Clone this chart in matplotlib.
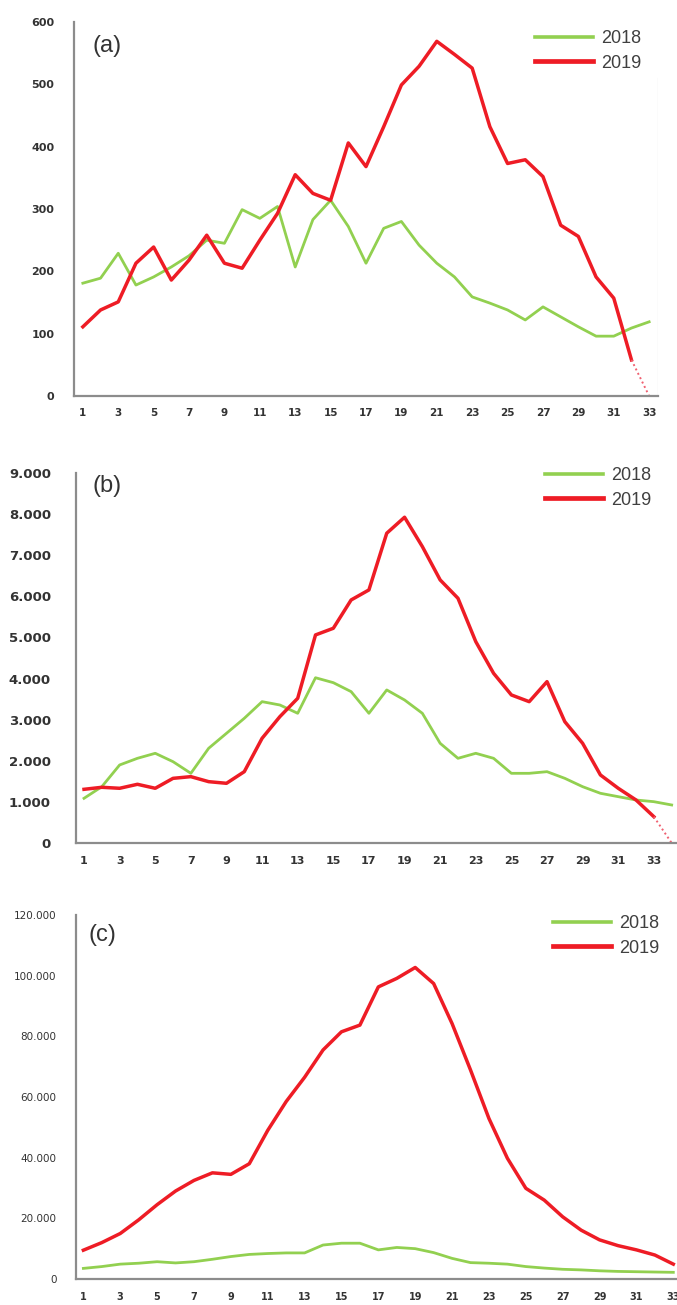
import matplotlib
matplotlib.use("Agg")
import matplotlib.pyplot as plt
from matplotlib.lines import Line2D
from matplotlib.ticker import FuncFormatter

# ---------------- data ----------------
weeks_a = list(range(1, 34))
a_2018 = [181, 189, 229, 178, 191, 207, 225, 250, 245, 299, 285, 304, 207, 283, 314,
          272, 213, 269, 280, 242, 213, 191, 159, 149, 138, 122, 143, 127, 111, 96,
          96, 109, 119]
a_2019 = [111, 138, 151, 213, 239, 186, 218, 258, 213, 205, 250, 293, 355, 325, 314,
          406, 368, 432, 499, 529, 569, 548, 526, 432, 373, 379, 352, 274, 256, 191,
          157, 58]
a_proj_weeks = [32, 33]
a_proj = [58, 0]

weeks_b = list(range(1, 35))
b_2018 = [1087, 1370, 1898, 2060, 2182, 1978, 1695, 2304, 2668, 3033, 3438, 3357, 3155,
          4020, 3900, 3682, 3155, 3723, 3479, 3155, 2425, 2060, 2182, 2060, 1695, 1695,
          1735, 1573, 1370, 1209, 1127, 1046, 1005, 925]
b_2019 = [1306, 1355, 1331, 1428, 1331, 1573, 1614, 1492, 1452, 1735, 2547, 3074, 3520,
          5061, 5223, 5912, 6156, 7535, 7924, 7210, 6399, 5953, 4898, 4128, 3601, 3438,
          3925, 2951, 2425, 1655, 1331, 1046, 640]
b_proj_weeks = [33, 34]
b_proj = [640, 0]

weeks_c = list(range(1, 34))
c_2018 = [3500, 4100, 4900, 5200, 5700, 5300, 5700, 6500, 7400, 8100, 8400, 8600, 8600,
          11200, 11800, 11800, 9600, 10400, 10000, 8700, 6800, 5400, 5200, 4900, 4100,
          3600, 3200, 3000, 2700, 2500, 2400, 2300, 2200]
c_2019 = [9500, 12000, 15000, 19500, 24500, 29000, 32500, 35000, 34500, 38000, 49000,
          58500, 66500, 75500, 81500, 83700, 96300, 99100, 102700, 97400, 84200, 68900,
          52900, 39800, 29900, 26000, 20500, 16100, 12900, 11000, 9600, 7900, 4900]

series_labels = ["2018", "2019"]
panel_labels = ["(a)", "(b)", "(c)"]

GREEN = "#92d050"
RED = "#ee1c25"

W, H = 677, 1305
fig = plt.figure(figsize=(W / 100, H / 100), dpi=100)


def fx(px):
    return px / W


def fy(py):
    return 1 - py / H


def thousands(v, pos):
    return "0" if v == 0 else f"{int(v):,}".replace(",", ".")


def style_axes(ax, ylabel_bold, ysize, xsize):
    for s in ["top", "right"]:
        ax.spines[s].set_visible(False)
    for s in ["left", "bottom"]:
        ax.spines[s].set_color("#8c8c8c")
        ax.spines[s].set_linewidth(1.6)
    ax.tick_params(axis="both", length=0)
    ax.tick_params(axis="y", pad=12, labelsize=ysize, labelcolor="#333333")
    ax.tick_params(axis="x", pad=9, labelsize=xsize, labelcolor="#333333")
    for lab in ax.get_yticklabels():
        lab.set_fontweight("bold" if ylabel_bold else "normal")
    for lab in ax.get_xticklabels():
        lab.set_fontweight("bold")


def add_legend(ax, x0, y0):
    handles = [Line2D([0], [0], color=GREEN, lw=2.6),
               Line2D([0], [0], color=RED, lw=3.4)]
    ax.legend(handles, series_labels, loc="upper left",
              bbox_to_anchor=(fx(x0), fy(y0)), bbox_transform=fig.transFigure,
              frameon=False, handlelength=3.2, handletextpad=0.45,
              labelspacing=0.42, borderpad=0, borderaxespad=0,
              prop={"family": "Liberation Sans", "size": 13})
    for t in ax.get_legend().get_texts():
        t.set_color("#404040")


# ---------------- panel (a) ----------------
axa = fig.add_axes([fx(74), fy(396), fx(658 - 74), (396 - 22) / H])
axa.plot(weeks_a, a_2018, color=GREEN, lw=2.0, solid_joinstyle="round")
axa.plot(weeks_a[:len(a_2019)], a_2019, color=RED, lw=2.5, solid_joinstyle="round")
axa.plot(a_proj_weeks, a_proj, color="#f06070", lw=1.4, ls=(0, (1, 1.5)))
axa.set_xlim(0.5, 33.5)
axa.set_ylim(0, 600)
axa.set_yticks(range(0, 601, 100))
axa.set_xticks(range(1, 34, 2))
style_axes(axa, True, 8, 7.5)
axa.tick_params(axis="y", pad=14)
axa.axvline(33.5, color="#ececec", lw=1, ymax=0.85)
axa.text(fx(93), fy(46), panel_labels[0], transform=fig.transFigure,
         fontsize=17, color="#333333", va="center", family="Liberation Sans")
add_legend(axa, 535, 30)

# ---------------- panel (b) ----------------
axb = fig.add_axes([fx(76), fy(843), fx(677 - 76), (843 - 473) / H])
axb.plot(weeks_b, b_2018, color=GREEN, lw=2.0, solid_joinstyle="round")
axb.plot(weeks_b[:len(b_2019)], b_2019, color=RED, lw=2.5, solid_joinstyle="round")
axb.plot(b_proj_weeks, b_proj, color="#f06070", lw=1.4, ls=(0, (1, 1.5)))
axb.set_xlim(0.55, 34.3)
axb.set_ylim(0, 9000)
axb.set_yticks(range(0, 9001, 1000))
axb.yaxis.set_major_formatter(FuncFormatter(thousands))
axb.set_xticks(range(1, 34, 2))
style_axes(axb, True, 9.5, 8)
axb.tick_params(axis="y", pad=18)
axb.text(fx(93), fy(486), panel_labels[1], transform=fig.transFigure,
         fontsize=17, color="#333333", va="center", family="Liberation Sans")
add_legend(axb, 545, 467)

# ---------------- panel (c) ----------------
axc = fig.add_axes([fx(76), fy(1279), fx(677 - 76), (1279 - 915) / H])
axc.plot(weeks_c, c_2018, color=GREEN, lw=2.0, solid_joinstyle="round")
axc.plot(weeks_c, c_2019, color=RED, lw=2.5, solid_joinstyle="round")
axc.set_xlim(0.6, 33.2)
axc.set_ylim(0, 120000)
axc.set_yticks(range(0, 120001, 20000))
axc.yaxis.set_major_formatter(FuncFormatter(thousands))
axc.set_xticks(range(1, 34, 2))
style_axes(axc, False, 7.5, 7)
axc.tick_params(axis="y", pad=14)
axc.text(fx(89), fy(935), panel_labels[2], transform=fig.transFigure,
         fontsize=17, color="#333333", va="center", family="Liberation Sans")
add_legend(axc, 553, 915)

fig.savefig("out.png", dpi=100)
